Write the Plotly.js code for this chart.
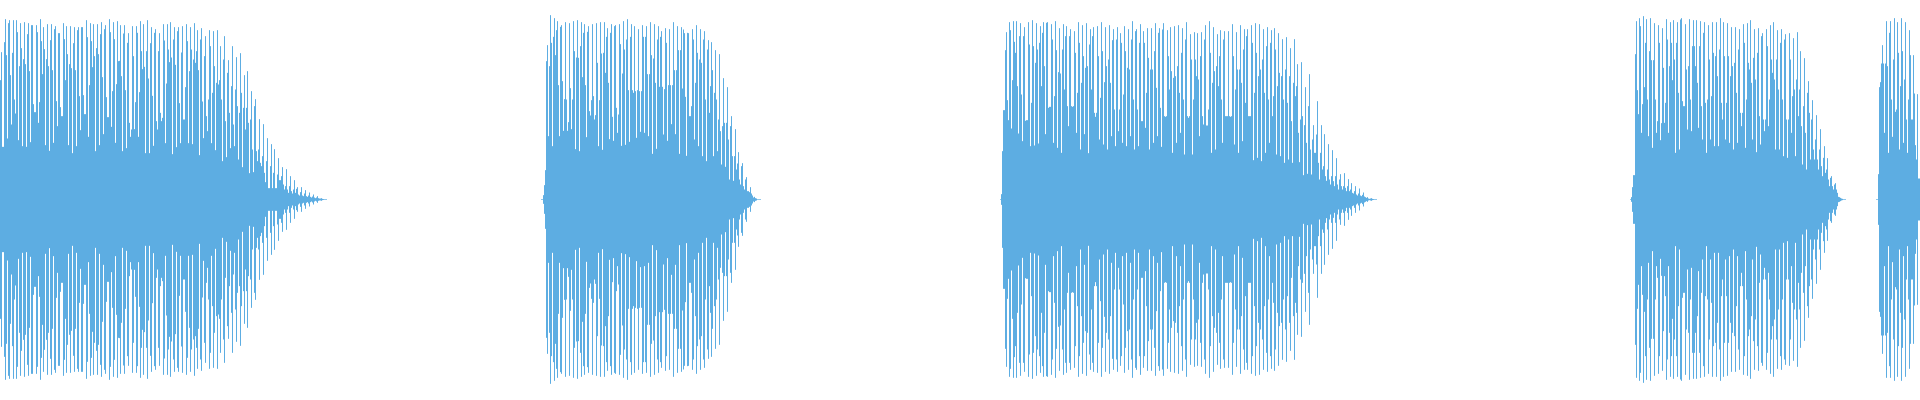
<!DOCTYPE html>
<html><head><meta charset="utf-8">
<script src="https://cdn.plot.ly/plotly-3.0.1.min.js"></script>
<style>html,body{margin:0;padding:0;background:#fff;overflow:hidden}#c{width:1920px;height:400px}</style>
</head><body><div id="c"></div>
<script>
// Each row is one waveform cycle, as amplitudes: [peak, rise, fall, valley]
const burst1=[[442,358,158,158],[541,472,433,183],[538,529,373,225],[538,440,300,230],[538,258,502,178],[529,400,454,160],[532,421,406,158],[529,496,385,172],[523,523,286,262],[523,262,502,230],[541,292,475,166],[517,376,451,163],[526,421,400,146],[526,478,388,170],[520,511,295,220],[499,499,277,250],[529,250,481,178],[520,358,436,163],[520,406,394,139],[517,469,388,160],[517,508,310,208],[517,517,313,256],[538,256,487,188],[529,343,475,184],[526,397,430,145],[526,454,436,163],[532,496,367,196],[523,511,307,247],[541,247,502,218],[532,325,481,170],[535,346,415,145],[523,416,370,145],[523,498,328,154],[499,470,230,188],[520,210,430,211],[520,292,500,188],[535,322,445,139],[526,391,398,139],[538,445,363,139],[517,469,311,161],[511,500,235,210],[499,445,260,235],[526,245,477,169],[526,348,450,157],[532,412,426,136],[517,480,404,157],[517,505,289,169],[520,441,240,240],[526,337,475,169],[517,385,450,166],[529,420,410,130],[508,445,388,133],[514,480,294,184],[490,430,250,205],[508,300,460,169],[505,320,400,148],[508,350,345,118],[460,358,300,115],[490,420,235,127],[418,380,260,154],[460,340,225,160],[427,330,280,120],[439,260,320,97],[373,275,210,82],[385,275,230,79],[325,240,150,82],[301,280,145,115],[241,150,110,100],[226,130,80,52],[184,115,34,34],[166,100,34,34],[151,80,34,34],[124,75,58,58],[97,70,45,30],[91,40,30,20],[70,40,25,18],[58,30,20,15],[37,32,15,12],[37,22,12,10],[28,18,10,8],[21,12,8,6],[15,9,6,4],[10,6,4,3],[4,3,2,1],[1,1,1,1]];
const burst2=[[1,1,13,43],[415,88,463,190],[553,400,470,160],[544,488,433,165],[535,508,343,190],[523,518,355,206],[532,301,300,206],[529,232,334,211],[535,300,445,151],[538,426,425,145],[532,460,367,175],[526,500,343,187],[520,503,265,252],[526,298,310,240],[529,253,410,160],[532,298,438,149],[532,440,380,181],[514,488,350,181],[526,500,248,176],[523,520,275,200],[526,255,466,161],[535,378,450,164],[541,480,328,173],[526,488,328,175],[520,320,325,185],[511,328,325,203],[523,325,488,200],[520,488,376,190],[532,376,433,137],[526,423,350,152],[520,480,338,161],[505,488,338,195],[514,331,470,176],[511,343,343,226],[532,343,388,196],[520,388,448,137],[517,448,333,146],[499,510,308,131],[499,500,250,250],[511,280,480,180],[523,350,440,160],[511,420,410,130],[505,480,300,115],[478,450,260,115],[472,340,388,130],[448,320,300,145],[436,240,205,105],[364,220,230,98],[337,230,180,60],[250,220,130,56],[211,130,90,60],[142,108,60,45],[109,100,40,30],[67,60,25,25],[37,22,18,12],[8,6,4,3],[1,1,1,1]];
const burst3=[[16,1,145,268],[448,268,502,298],[532,238,508,213],[535,358,473,170],[535,440,340,198],[529,490,315,175],[517,490,236,238],[532,238,465,160],[538,290,460,162],[529,410,450,168],[520,470,340,150],[532,500,400,196],[532,530,275,278],[526,278,480,170],[535,310,448,155],[514,382,378,140],[526,450,330,158],[520,490,280,220],[511,490,280,278],[505,280,440,200],[532,320,470,150],[523,350,430,196],[529,395,400,139],[511,465,330,180],[517,490,260,248],[520,260,430,180],[532,305,445,165],[517,352,400,150],[523,420,350,190],[511,478,270,160],[517,480,205,205],[499,270,470,170],[520,315,445,160],[511,395,390,190],[535,480,300,150],[511,505,270,160],[526,470,235,230],[505,235,470,215],[514,320,425,150],[514,390,390,170],[529,445,335,190],[514,500,275,158],[529,510,250,248],[508,250,430,190],[517,330,385,140],[520,365,370,170],[523,400,320,200],[514,440,300,135],[532,480,250,245],[496,250,420,135],[502,300,420,170],[499,370,360,190],[502,430,250,225],[523,480,222,222],[535,270,440,140],[517,350,385,150],[496,400,340,150],[508,430,300,170],[505,480,250,250],[505,250,250,248],[526,250,430,165],[502,330,390,140],[523,390,350,175],[511,450,290,140],[511,490,250,250],[523,250,470,118],[529,320,440,125],[526,370,390,115],[511,420,320,140],[517,460,300,170],[508,470,250,250],[514,310,450,135],[499,340,380,130],[481,370,300,110],[487,390,290,120],[454,370,235,110],[481,350,310,90],[406,340,200,112],[412,240,250,73],[337,223,170,77],[376,280,150,75],[223,180,140,140],[295,195,110,60],[223,140,90,58],[196,100,70,56],[166,90,60,45],[148,70,55,40],[124,70,45,30],[76,60,40,30],[79,40,35,25],[61,40,25,22],[49,30,20,18],[40,25,15,12],[33,18,12,10],[21,14,9,7],[7,5,3,2],[4,3,2,1],[1,1,1,1]];
const burst4=[[7,1,37,73],[436,73,535,328],[544,256,520,200],[550,286,337,195],[541,470,300,190],[544,445,418,155],[529,418,300,200],[523,235,470,178],[514,229,395,230],[541,290,480,200],[532,400,470,190],[538,358,420,140],[532,470,320,150],[544,540,295,280],[526,280,390,210],[541,400,300,205],[538,460,460,155],[538,400,350,215],[535,460,280,180],[532,500,290,140],[523,300,420,180],[532,310,440,160],[532,430,370,160],[544,450,290,150],[532,240,430,180],[529,290,430,170],[517,370,400,150],[517,410,320,170],[511,450,260,220],[526,260,470,155],[529,300,410,205],[538,390,350,180],[511,425,360,142],[514,440,250,165],[499,490,240,205],[511,240,460,220],[523,300,420,150],[532,380,360,150],[508,420,330,150],[511,470,300,130],[496,480,240,125],[499,240,420,200],[484,310,330,130],[502,360,250,125],[445,330,220,105],[424,280,200,90],[355,320,260,120],[298,240,150,120],[253,180,120,90],[211,150,100,70],[160,125,80,50],[124,90,60,40],[70,65,40,30],[49,45,30,20],[7,8,5,3],[1,2,1,1]];
const burst5=[[0,0,0,1],[76,1,337,352],[463,408,408,200],[535,408,400,140],[535,500,300,188],[544,420,263,215],[532,270,440,150],[544,340,445,170],[532,360,240,140],[508,300,433,240],[433,240,318,163],[316,120,63,63]];
const bursts=[burst1,burst2,burst3,burst4,burst5];
const burstStart=[1,542,1001,1631,1874.3];
const cyclePeriod=3.85;

const xs=[],ys=[];
function col(t,a){xs.push(t+0.5,t+0.5,null);ys.push(a,-a,null);}
bursts.forEach((rows,b)=>{
  rows.forEach((r,i)=>{
    const t=Math.round(burstStart[b]+i*cyclePeriod);
    col(t-1,r[1]);col(t,r[0]);col(t+1,r[2]);col(t+2,r[3]);
  });
});
Plotly.newPlot('c',[{type:'scatter',mode:'lines',x:xs,y:ys,connectgaps:false,
  line:{color:'#5dade2',width:1,simplify:false},hoverinfo:'skip',showlegend:false}],
{width:1920,height:400,margin:{l:0,r:0,t:0,b:0},paper_bgcolor:'#fff',plot_bgcolor:'#fff',showlegend:false,
 xaxis:{range:[0,1920],visible:false,fixedrange:true},
 yaxis:{range:[-601.5,598.5],visible:false,fixedrange:true}},
{displayModeBar:false,staticPlot:true});
</script></body></html>
